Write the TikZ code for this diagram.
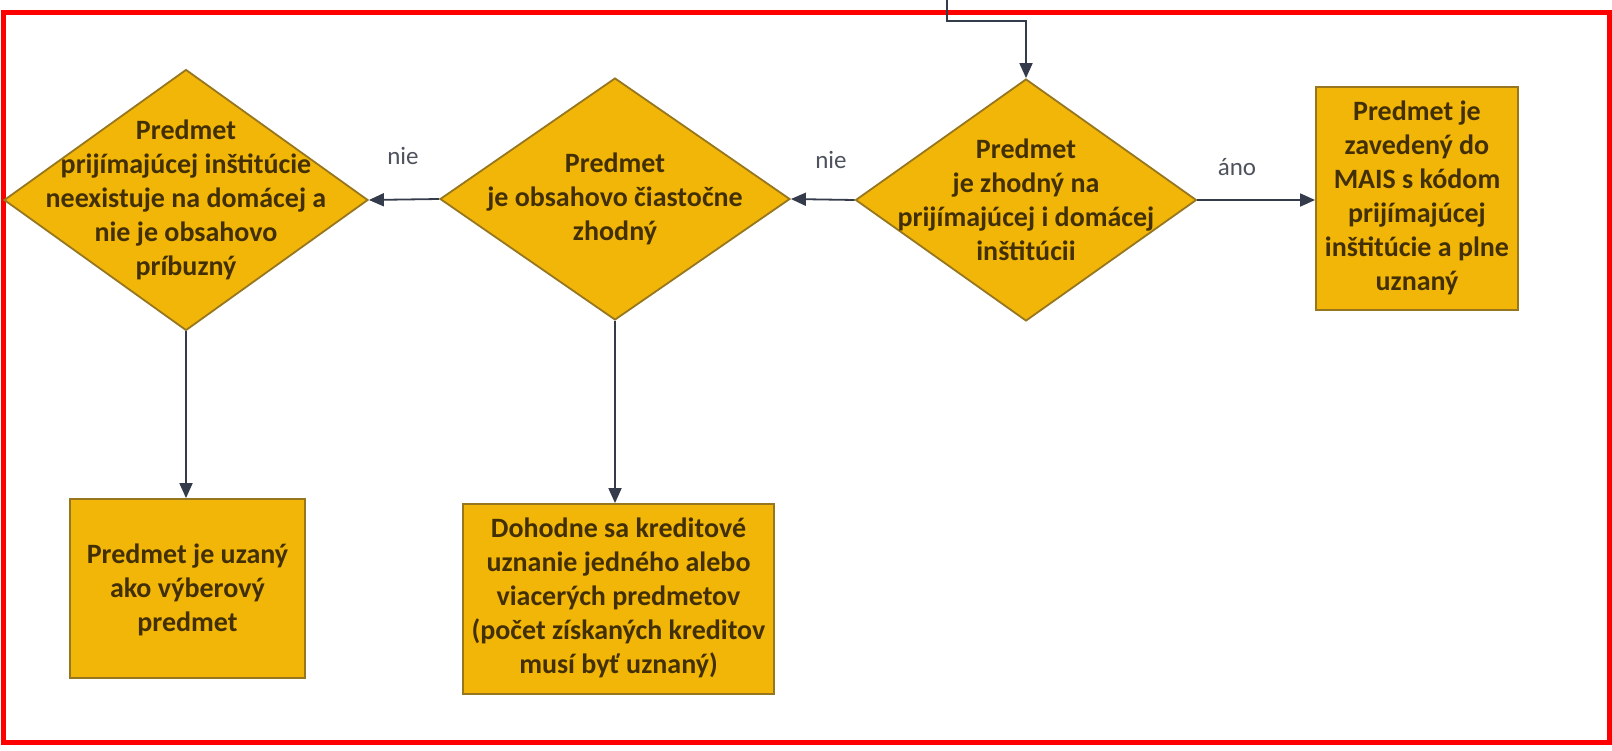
\documentclass[tikz,border=0pt]{standalone}
\usepackage{fontspec}
\setmainfont{Carlito}
\usetikzlibrary{arrows.meta,shapes.geometric}
\definecolor{gold}{RGB}{242,182,8}
\definecolor{goldedge}{RGB}{150,118,30}
\definecolor{txtbrown}{RGB}{66,48,4}
\definecolor{conn}{RGB}{52,60,76}
\definecolor{labgray}{RGB}{78,82,92}
\definecolor{framered}{RGB}{255,0,0}
\begin{document}
\begin{tikzpicture}[x=1pt,y=-1pt,
  dec/.style={draw=goldedge, fill=gold, line width=1.8pt, shape=diamond, inner sep=0pt},
  boxnode/.style={draw=goldedge, fill=gold, line width=1.8pt, rectangle, inner sep=0pt},
  txt/.style={text=txtbrown, font=\fontsize{28}{34}\selectfont\bfseries, align=center, inner sep=0pt},
  lab/.style={text=labgray, font=\fontsize{25}{28}\selectfont, inner sep=0pt},
  arr/.style={draw=conn, line width=1.8pt, -{Triangle[length=15pt,width=13pt]}}]
\useasboundingbox (0,0) rectangle (1612,750);
\draw[framered, line width=5pt] (3,12) rectangle (1609,742);

% decisions
\node[dec, minimum width=341pt, minimum height=242pt] (d1) at (1026,200) {};
\node[txt] (d1t) at (1026,200) {Predmet\\je zhodný na\\prijímajúcej i domácej\\inštitúcii};
\node[dec, minimum width=350pt, minimum height=242pt] (d2) at (615,199) {};
\node[txt] (d2t) at (615,199) {Predmet\\je obsahovo čiastočne\\zhodný};
\node[dec, minimum width=364pt, minimum height=261pt] (d3) at (186,200) {};
\node[txt] (d3t) at (186,200) {Predmet\\prijímajúcej inštitúcie\\neexistuje na domácej a\\nie je obsahovo\\príbuzný};

% boxes
\node[boxnode, minimum width=202pt, minimum height=223pt] (b1) at (1417,198.5) {};
\node[txt] (b1t) at (1417,198) {Predmet je\\zavedený do\\MAIS s kódom\\prijímajúcej\\inštitúcie a plne\\uznaný};
\node[boxnode, minimum width=235pt, minimum height=179pt] (b2) at (187.5,588.5) {};
\node[txt] (b2t) at (187.5,590) {Predmet je uzaný\\ako výberový\\predmet};
\node[boxnode, minimum width=311pt, minimum height=190pt] (b3) at (618.5,599) {};
\node[txt] (b3t) at (618.5,598) {Dohodne sa kreditové\\uznanie jedného alebo\\viacerých predmetov\\(počet získaných kreditov\\musí byť uznaný)};

% connectors
\coordinate (topin) at (947,0);
\coordinate (bend) at (947,21);
\draw[arr] (topin) -- (bend) -| (d1.north);
\draw[arr] (d1.east) -- (d1.east -| b1.west);
\draw[arr] (d1.west) -- (d2.east);
\draw[arr] (d2.west) -- (d3.east);
\draw[arr] (d3.south) -- (d3.south |- b2.north);
\draw[arr] (d2.south) -- (d2.south |- b3.north);

% labels
\node[lab] (lano) at (1237,167) {áno};
\node[lab] (lnie1) at (831,160) {nie};
\node[lab] (lnie2) at (403,156) {nie};
\end{tikzpicture}
\end{document}
